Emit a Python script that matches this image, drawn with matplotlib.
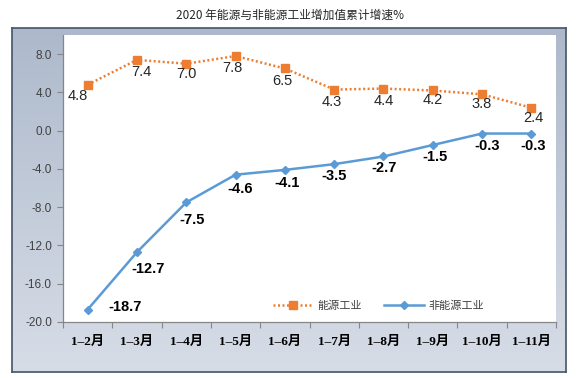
import numpy as np
import matplotlib
matplotlib.use("Agg")
import matplotlib.pyplot as plt

plt.rcParams['font.family'] = ['Noto Sans CJK SC', 'DejaVu Sans']

categories = ["1–2月", "1–3月", "1–4月", "1–5月", "1–6月", "1–7月", "1–8月", "1–9月", "1–10月", "1–11月"]
energy = [4.8, 7.4, 7.0, 7.8, 6.5, 4.3, 4.4, 4.2, 3.8, 2.4]
non_energy = [-18.7, -12.7, -7.5, -4.6, -4.1, -3.5, -2.7, -1.5, -0.3, -0.3]
yticks = [-20, -16, -12, -8, -4, 0, 4, 8]
title = "2020 年能源与非能源工业增加值累计增速%"
names = ["能源工业", "非能源工业"]

# label offsets in pixels (dx, dy downward)
e_off = [(-10, 11), (4, 12), (0, 10), (-3, 12), (-2, 13), (-2, 12), (0, 12), (0, 10), (0, 10), (2, 10)]
n_off = [(37, -3), (11, 17), (6, 18), (5, 14), (2, 13), (0, 12), (1, 12), (2, 12), (5, 12), (2, 12)]

W, H = 580, 378
fig = plt.figure(figsize=(W / 100, H / 100), dpi=100)
fig.patch.set_facecolor("white")

# outer gradient box
bx0, by0, bx1, by1 = 12, 28, 566, 372
bg = fig.add_axes([bx0 / W, 1 - by1 / H, (bx1 - bx0) / W, (by1 - by0) / H])
grad = np.linspace(0, 1, 256).reshape(-1, 1)
top = np.array([0xad, 0xb9, 0xcb]) / 255
bot = np.array([0xd7, 0xdd, 0xe7]) / 255
img = top[None, None, :] * (1 - grad[:, :, None]) + bot[None, None, :] * grad[:, :, None]
bg.imshow(img, aspect='auto', extent=[0, 1, 0, 1])
bg.set_xticks([]); bg.set_yticks([])
for s in bg.spines.values():
    s.set_color("#44546a"); s.set_linewidth(1.2)

ax = fig.add_axes([63 / W, 1 - 322 / H, (556 - 63) / W, (322 - 35) / H])
ax.set_facecolor("white")
x = np.arange(len(categories))
orange = "#ED7D31"
blue = "#5B9BD5"
ax.plot(x, energy, color=orange, linestyle=(0, (0.8, 1.0)), linewidth=1.8,
        marker='s', markersize=6, markeredgecolor=orange, markerfacecolor=orange,
        label=names[0], zorder=3)
ax.plot(x, non_energy, color=blue, linewidth=1.8,
        marker='D', markersize=4, markeredgecolor=blue, markerfacecolor=blue,
        label=names[1], zorder=3)

px2pt = 72 / 100
for i, v in enumerate(energy):
    dx, dy = e_off[i]
    ax.annotate(f"{v:.1f}", (x[i], v), xytext=(dx * px2pt, -dy * px2pt), textcoords='offset points',
                ha='center', va='center', fontsize=10.5, color="#262626", family=['Liberation Sans'])
for i, v in enumerate(non_energy):
    dx, dy = n_off[i]
    ax.annotate(f"{v:.1f}", (x[i], v), xytext=(dx * px2pt, -dy * px2pt), textcoords='offset points',
                ha='center', va='center', fontsize=10.5, color="black", fontweight='bold',
                family=['Liberation Sans'])

ax.set_xlim(-0.5, len(categories) - 0.5)
ax.set_ylim(-20, 10)
ax.set_yticks(yticks)
ax.set_yticklabels([f"{t:.1f}" for t in yticks], fontsize=8.5, color="#404040", family=['Liberation Sans'])
ax.tick_params(axis='y', length=4, color="#868686", width=0.8, pad=4)

ax.set_xticks(np.arange(len(categories) + 1) - 0.5)
ax.set_xticklabels([])
ax.tick_params(axis='x', which='major', length=4, color="#868686", width=0.8)
ax.set_xticks(x, minor=True)
ax.set_xticklabels(categories, minor=True, fontsize=9.5, fontweight='bold',
                   family=['Liberation Serif', 'Noto Sans CJK SC'])
ax.tick_params(axis='x', which='minor', length=0, pad=10)

for s in ['top', 'right']:
    ax.spines[s].set_visible(False)
for s in ['left', 'bottom']:
    ax.spines[s].set_color("#868686")
    ax.spines[s].set_linewidth(0.9)

leg = ax.legend(loc='center', bbox_to_anchor=(0.64, 0.056), ncol=2, frameon=False,
                fontsize=8, handlelength=3.6, columnspacing=2.0, handletextpad=0.4)
for t in leg.get_texts():
    t.set_color("#404040")

fig.text(0.5, 1 - 15 / H, title, ha='center', va='center', fontsize=8.5, color="#262626")

fig.savefig("out.png", dpi=100)
